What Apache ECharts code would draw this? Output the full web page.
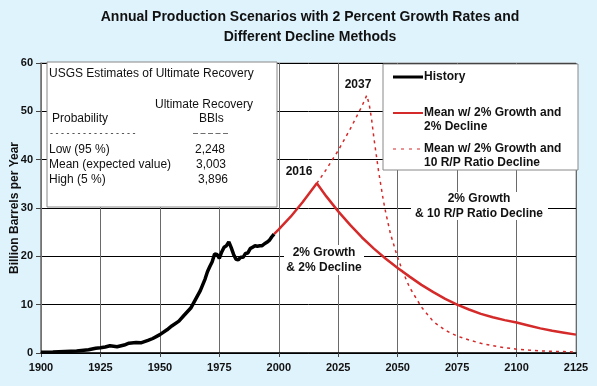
<!DOCTYPE html>
<html><head><meta charset="utf-8">
<script src="https://cdn.jsdelivr.net/npm/echarts@6/dist/echarts.min.js"></script>
<style>html,body{margin:0;padding:0;background:#dff3fd;}#c{width:597px;height:386px;}</style>
</head><body><div id="c"></div>
<script>
// ---- data ----
const historyYears = [1900,1905,1910,1915,1920,1923,1925,1927,1929,1932,1935,1937,1940,1942,1945,1947,1950,1953,1955,1958,1960,1963,1965,1967,1969,1970,1971,1972,1973,1974,1975,1976,1977,1978,1979,1980,1981,1982,1983,1984,1985,1986,1987,1988,1989,1990,1991,1992,1993,1994,1995,1996,1997,1998];
const historyValues = [0.15,0.22,0.33,0.43,0.69,1.0,1.07,1.24,1.49,1.3,1.65,2.04,2.15,2.1,2.6,3.0,3.8,4.8,5.6,6.6,7.7,9.3,11.1,12.9,15.3,16.8,17.9,18.9,20.5,20.4,19.6,20.9,21.9,22.2,23.0,21.8,20.4,19.4,19.3,19.8,19.8,20.6,20.7,21.6,21.9,22.2,22.1,22.2,22.2,22.6,22.9,23.3,24.0,24.6];

const declineYears = [1998,2000,2005,2010,2016,2020,2025,2030,2035,2040,2045,2050,2055,2060,2065,2070,2075,2080,2085,2090,2095,2100,2105,2110,2115,2120,2125];
const declineValues = [24.6,25.6,28.2,31.2,35.1,32.4,29.3,26.5,23.9,21.6,19.5,17.6,15.8,14.1,12.6,11.2,10.0,9.0,8.1,7.4,6.8,6.3,5.7,5.1,4.6,4.2,3.8];

const rpYears = [2016,2020,2025,2030,2035,2037,2038,2039,2040,2041,2042,2043,2044,2045,2046,2047,2048,2049,2050,2052,2055,2060,2065,2070,2075,2080,2085,2090,2095,2100,2105,2110,2115,2120,2125];
const rpValues = [35.1,38.0,41.9,46.3,51.1,53.3,51.5,48.5,44.5,41.0,37.5,34.5,31.5,29.0,26.8,24.6,23.0,21.3,19.8,17.0,13.6,9.5,6.5,4.7,3.5,2.7,2.0,1.5,1.1,0.8,0.6,0.45,0.35,0.3,0.2];

const xTicks = [1900,1925,1950,1975,2000,2025,2050,2075,2100,2125];
const yTicks = [0,10,20,30,40,50,60];

const seriesNames = ['History','Mean w/ 2% Growth and\n2% Decline','Mean w/ 2% Growth and\n10 R/P Ratio Decline'];
const tableTitle = 'USGS Estimates of Ultimate Recovery';
const tableRows = [['Low (95 %)','2,248'],['Mean (expected value)','3,003'],['High (5 %)','3,896']];

const pair = (xs, ys) => xs.map((x, i) => [x, ys[i]]);
const RED = '#d42a2a';
const F = '"Liberation Sans", Arial, sans-serif';

const chart = echarts.init(document.getElementById('c'), null, {renderer:'canvas'});

const txt = (x, y, s, o) => Object.assign({type:'text', z:100, style:Object.assign({x, y, text:s, fill:'#111', font:'12px '+F, textVerticalAlign:'middle'}, o||{})});

const graphics = [
  // title
  txt(310, 17, 'Annual Production Scenarios with 2 Percent Growth Rates and', {font:'bold 14px '+F, textAlign:'center'}),
  txt(310, 37, 'Different Decline Methods', {font:'bold 14px '+F, textAlign:'center'}),
  // y axis name
  {type:'text', z:100, x:15, y:208, rotation:Math.PI/2, style:{x:0, y:0, text:'Billion Barrels per Year', font:'bold 12px '+F, fill:'#111', textAlign:'center', textVerticalAlign:'middle'}},
  // table box
  {type:'rect', z:90, shape:{x:47, y:62, width:230, height:145}, style:{fill:'#fff', stroke:'#888', lineWidth:1}},
  txt(49, 74, tableTitle),
  txt(155, 105, 'Ultimate Recovery'),
  txt(52, 119, 'Probability'),
  txt(199, 119, 'BBls'),
  txt(50, 134, '- - - - - - - - - - - - - - - -', {font:'9px '+F}),
  txt(193, 134, '– – – – –', {font:'9px '+F}),
  // annotation labels
  txt(358, 85, '2037', {font:'bold 12px '+F, textAlign:'center'}),
  txt(299, 172, '2016', {font:'bold 12px '+F, textAlign:'center'}),
  {type:'rect', z:95, shape:{x:284, y:245, width:80, height:30}, style:{fill:'#fff'}},
  txt(324, 253, '2% Growth', {font:'bold 12px '+F, textAlign:'center'}),
  txt(324, 268, '& 2% Decline', {font:'bold 12px '+F, textAlign:'center'}),
  {type:'rect', z:95, shape:{x:411, y:192, width:137, height:28}, style:{fill:'#fff'}},
  txt(479, 199, '2% Growth', {font:'bold 12px '+F, textAlign:'center'}),
  txt(479, 214, '& 10 R/P Ratio Decline', {font:'bold 12px '+F, textAlign:'center'}),
  // legend box
  {type:'rect', z:90, shape:{x:383, y:64, width:195, height:106}, style:{fill:'#fff', stroke:'#888', lineWidth:1}},
  {type:'line', z:100, shape:{x1:393, y1:77, x2:423, y2:77}, style:{stroke:'#000', lineWidth:3}},
  txt(424, 77, seriesNames[0], {font:'bold 12px '+F}),
  {type:'line', z:100, shape:{x1:393, y1:113, x2:423, y2:113}, style:{stroke:RED, lineWidth:2}},
  txt(424, 113, seriesNames[1].split('\n')[0], {font:'bold 12px '+F}),
  txt(424, 127, seriesNames[1].split('\n')[1], {font:'bold 12px '+F}),
  {type:'line', z:100, shape:{x1:393, y1:149, x2:423, y2:149}, style:{stroke:RED, lineWidth:1.2, lineDash:[3,5]}},
  txt(424, 149, seriesNames[2].split('\n')[0], {font:'bold 12px '+F}),
  txt(424, 163, seriesNames[2].split('\n')[1], {font:'bold 12px '+F})
];
tableRows.forEach((r, i) => {
  graphics.push(txt(49, 150 + i*15, r[0]));
  graphics.push(txt(195 + (i===2?3:(i===1?1:0)), 150 + i*15, r[1]));
});

chart.setOption({
  animation:false,
  backgroundColor:'#dff3fd',
  grid:{left:41, right:21, top:63, bottom:33, show:true, backgroundColor:'#fff', borderColor:'#999', borderWidth:1},
  xAxis:{type:'value', min:1900, max:2125, interval:25,
    axisLine:{lineStyle:{color:'#000', width:1.5}},
    axisTick:{show:true, length:4, lineStyle:{color:'#444'}},
    axisLabel:{color:'#111', fontFamily:F, fontWeight:'bold', fontSize:11, margin:9, formatter:v => xTicks.includes(v) ? String(v) : ''},
    splitLine:{show:true, lineStyle:{color:'#6a6a6a', width:1}}},
  yAxis:{type:'value', min:0, max:60, interval:10,
    axisLine:{show:true, lineStyle:{color:'#777', width:1.5}},
    axisTick:{show:true, length:5, lineStyle:{color:'#444'}},
    axisLabel:{color:'#111', fontFamily:F, fontWeight:'bold', fontSize:11, margin:8, formatter:v => yTicks.includes(v) ? String(v) : ''},
    splitLine:{show:true, lineStyle:{color:'#000', width:1}}},
  series:[
    {name:seriesNames[0], type:'line', data:pair(historyYears, historyValues), showSymbol:false, lineStyle:{color:'#000', width:3.5}, z:5},
    {name:seriesNames[1], type:'line', data:pair(declineYears, declineValues), showSymbol:false, smooth:false, lineStyle:{color:RED, width:2.5}, z:4},
    {name:seriesNames[2], type:'line', data:pair(rpYears, rpValues), showSymbol:false, smooth:false, lineStyle:{color:RED, width:1.5, type:[3,4]}, z:3}
  ],
  graphic:graphics
});
</script>
</body></html>
